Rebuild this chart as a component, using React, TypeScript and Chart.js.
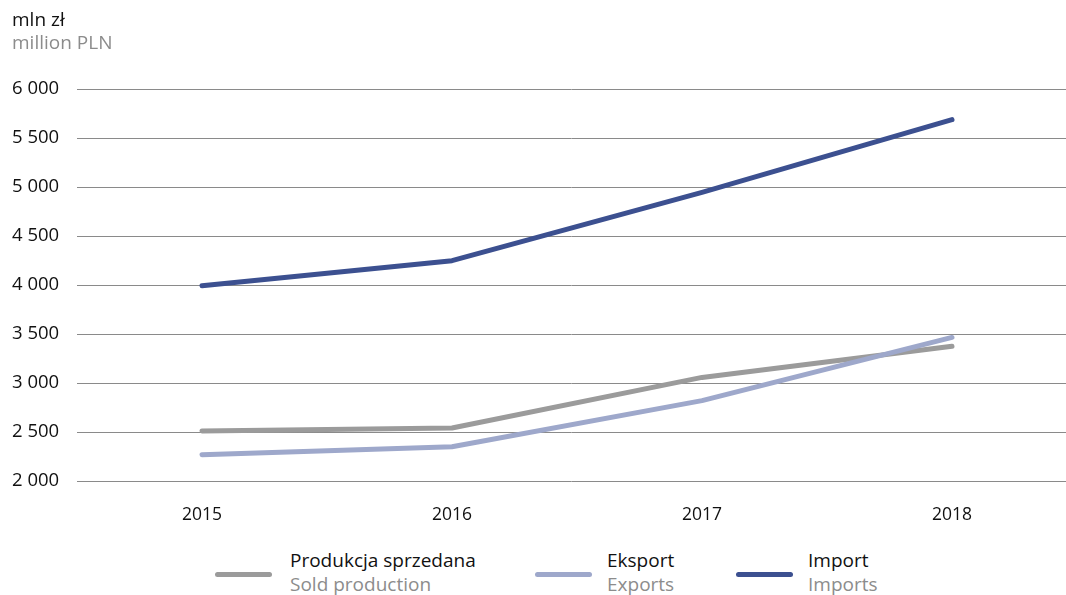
import React, { useEffect, useRef } from "react";
import { Chart, registerables } from "chart.js";

Chart.register(...registerables);

const years = [2015, 2016, 2017, 2018];
const soldProduction = [2510, 2541, 3057, 3375];
const exportsValues = [2268, 2350, 2820, 3465];
const importsValues = [3992, 4248, 4945, 5688];
const yTickValues = [2000, 2500, 3000, 3500, 4000, 4500, 5000, 5500, 6000];
const namesPL = ["Produkcja sprzedana", "Eksport", "Import"];
const namesEN = ["Sold production", "Exports", "Imports"];
const unitPL = "mln zł";
const unitEN = "million PLN";

const COLORS = ["#9b9b9b", "#9ea8cb", "#3c5090"];
const FONT = "'Open Sans', 'Noto Sans', sans-serif";

const fmt = (v: number) => {
  const s = String(Math.round(v));
  return s.replace(/\B(?=(\d{3})+(?!\d))/g, " ");
};

export default function App() {
  const ref = useRef<HTMLCanvasElement | null>(null);

  useEffect(() => {
    if (!ref.current) return;
    const series = [soldProduction, exportsValues, importsValues];
    const chart = new Chart(ref.current, {
      type: "line",
      data: {
        datasets: series.map((vals, i) => ({
          label: namesPL[i],
          data: vals.map((v, j) => ({ x: years[j], y: v })),
          borderColor: COLORS[i],
          backgroundColor: COLORS[i],
          borderWidth: 5,
          pointRadius: 0,
          tension: 0,
          borderCapStyle: "round" as const,
          borderJoinStyle: "round" as const,
          order: i === 1 ? 0 : i === 0 ? 1 : 2,
        })),
      },
      options: {
        animation: false,
        responsive: false,
        maintainAspectRatio: false,
        layout: { padding: { top: 89, left: 12, right: 0, bottom: 0 } },
        plugins: { legend: { display: false }, tooltip: { enabled: false } },
        scales: {
          x: {
            type: "linear",
            min: 2014.5,
            max: 2018.456,
            grid: { display: false },
            border: { display: false },
            afterBuildTicks: (scale: any) => {
              scale.ticks = years.map((v) => ({ value: v }));
            },
            afterFit: (scale: any) => {
              scale.height = 49;
            },
            ticks: {
              padding: 16,
              color: "#111111",
              font: { family: FONT, size: 17.5 },
              callback: (v: any) => String(v),
            },
          },
          y: {
            min: 2000,
            max: 6000,
            grid: { color: "#8a8a8a", lineWidth: 1, drawTicks: false },
            border: { display: false },
            afterBuildTicks: (scale: any) => {
              scale.ticks = yTickValues.map((v) => ({ value: v }));
            },
            afterFit: (scale: any) => {
              scale.width = 65;
            },
            ticks: {
              crossAlign: "far",
              padding: 0,
              color: "#111111",
              font: { family: FONT, size: 18.5 },
              callback: (v: any) => fmt(Number(v)),
            },
          },
        },
      },
    });
    return () => chart.destroy();
  }, []);

  const lineX = [215, 535, 736];
  const textX = [290, 607, 808];
  return (
    <div
      style={{
        position: "absolute",
        left: 0,
        top: 0,
        width: 1066,
        height: 595,
        background: "#fff",
        fontFamily: FONT,
        overflow: "hidden",
      }}
    >
      <canvas ref={ref} width={1066} height={530} style={{ position: "absolute", left: 0, top: 0 }} />
      <div style={{ position: "absolute", left: 12, top: 7, fontSize: 19, color: "#111111", lineHeight: "25px" }}>
        {unitPL}
      </div>
      <div style={{ position: "absolute", left: 12, top: 30, fontSize: 19, color: "#8c8c8c", lineHeight: "25px" }}>
        {unitEN}
      </div>
      {namesPL.map((n, i) => (
        <React.Fragment key={n}>
          <div
            style={{
              position: "absolute",
              left: lineX[i],
              top: 572,
              width: 57,
              height: 5,
              borderRadius: 3,
              background: COLORS[i],
            }}
          />
          <div
            style={{
              position: "absolute",
              left: textX[i],
              top: 548,
              whiteSpace: "nowrap",
              fontSize: 19,
              lineHeight: "24px",
              color: "#111111",
            }}
          >
            {n}
          </div>
          <div
            style={{
              position: "absolute",
              left: textX[i],
              top: 572,
              whiteSpace: "nowrap",
              fontSize: 19,
              lineHeight: "24px",
              color: "#8c8c8c",
            }}
          >
            {namesEN[i]}
          </div>
        </React.Fragment>
      ))}
    </div>
  );
}
